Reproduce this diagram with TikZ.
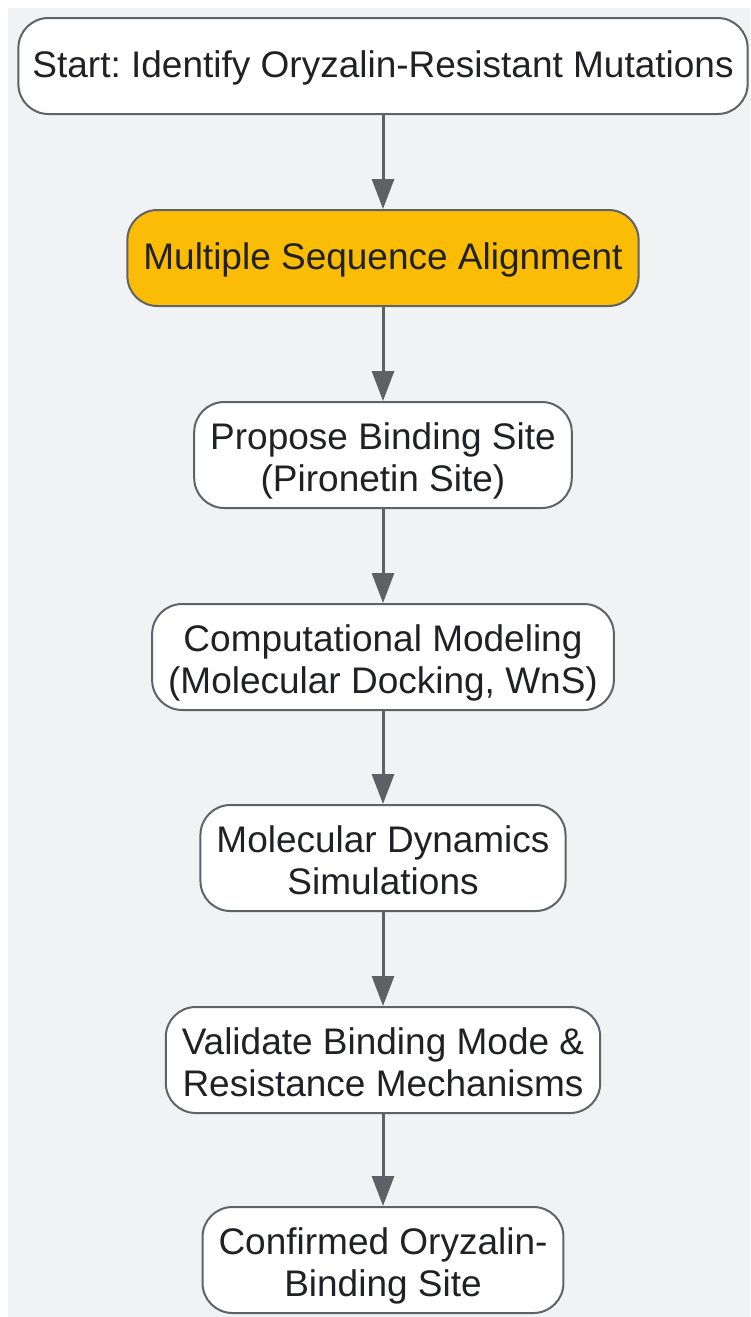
\documentclass[tikz,border=0pt]{standalone}
\usepackage{fontspec}
\setmainfont{Liberation Sans}
\usetikzlibrary{arrows.meta}
\definecolor{bggray}{HTML}{F1F2F4}
\definecolor{boxline}{HTML}{5F6368}
\definecolor{arrowgray}{HTML}{5F6066}
\definecolor{textdark}{HTML}{202124}
\definecolor{msayellow}{HTML}{FBBC05}
\frenchspacing
\begin{document}
\begin{tikzpicture}[x=1pt, y=-1pt,
    stepbox/.style={draw=boxline, line width=2pt, rounded corners=30pt, fill=white,
        text=textdark, align=center, font=\fontsize{37}{42}\selectfont,
        inner xsep=16pt, inner ysep=15pt, minimum height=96pt},
    oneline/.style={text height=44pt, text depth=22pt},
    twoline/.style={text height=74pt, text depth=2pt},
    flow/.style={draw=arrowgray, line width=3pt, -{Triangle[length=30pt,width=22pt]}}]
    % Sfondo
    \useasboundingbox (0,0) rectangle (750,1317);
    \fill[white] (0,0) rectangle (750,1317);
    \fill[bggray] (8,8) rectangle (750,1317);

    % Passi del flusso
    \node[stepbox, oneline, inner xsep=14pt] (start) at (383,66) {Start: Identify Oryzalin-Resistant Mutations};
    \node[stepbox, oneline, fill=msayellow] (msa) at (383,258) {Multiple Sequence Alignment};
    \node[stepbox, twoline] (site) at (383,455) {Propose Binding Site\\(Pironetin Site)};
    \node[stepbox, twoline] (model) at (383,657) {Computational Modeling\\(Molecular Docking, WnS)};
    \node[stepbox, twoline] (md) at (383,858) {Molecular Dynamics\\Simulations};
    \node[stepbox, twoline] (valid) at (383,1060) {Validate Binding Mode \&\\Resistance Mechanisms};
    \node[stepbox, twoline] (done) at (383,1260) {Confirmed Oryzalin-\\Binding Site};

    % Frecce
    \draw[flow] (start) -- (msa);
    \draw[flow] (msa) -- (site);
    \draw[flow] (site) -- (model);
    \draw[flow] (model) -- (md);
    \draw[flow] (md) -- (valid);
    \draw[flow] (valid) -- (done);
\end{tikzpicture}
\end{document}
